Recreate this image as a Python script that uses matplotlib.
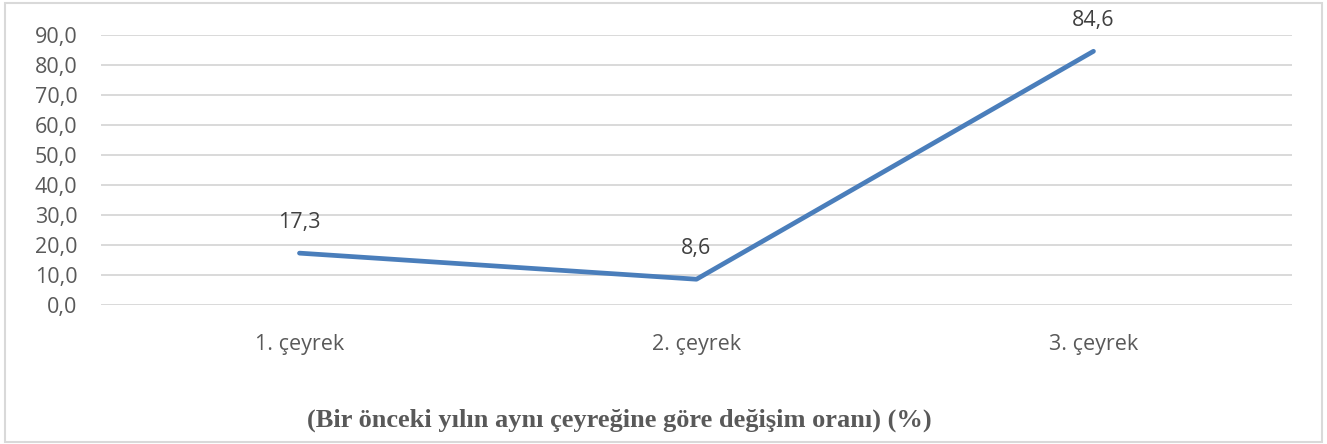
import matplotlib.pyplot as plt
from matplotlib.patches import Rectangle

# data
quarters = ['1. çeyrek', '2. çeyrek', '3. çeyrek']
change_rate = [17.3, 8.6, 84.6]
yticks = [0, 10, 20, 30, 40, 50, 60, 70, 80, 90]
title = '(Bir önceki yılın aynı çeyreğine göre değişim oranı) (%)'

plt.rcParams['font.family'] = ['Open Sans', 'DejaVu Sans']

fig = plt.figure(figsize=(13.27, 4.44), dpi=100)
ax = fig.add_axes([0.0761, 0.313, 0.8975, 0.608])

x = list(range(len(quarters)))
ax.plot(x, change_rate, color='#4a7ebb', lw=3.4, solid_capstyle='round', zorder=3)

# value labels above points
for xi, v in zip(x, change_rate):
    ax.annotate(f'{v:.1f}'.replace('.', ','), (xi, v), xytext=(0, 22),
                textcoords='offset points', ha='center', va='center',
                fontsize=15.5, color='#404040')

ax.set_xlim(-0.5, 2.5)
ax.set_ylim(0, 90)
ax.set_yticks(yticks)
ax.set_yticklabels([f'{t:.1f}'.replace('.', ',') for t in yticks])
ax.set_xticks(x)
ax.set_xticklabels(quarters)
ax.tick_params(axis='y', length=0, labelsize=15.5, labelcolor='#595959', pad=17)
ax.tick_params(axis='x', length=0, labelsize=15.5, labelcolor='#595959', pad=21)
ax.grid(axis='y', color='#d9d9d9', lw=1.4)
ax.set_axisbelow(True)
for s in ax.spines.values():
    s.set_visible(False)

fig.text(0.467, 0.054, title, ha='center', va='center', fontsize=19,
         fontweight='bold', family='Liberation Serif', color='#595959')

# outer border
fig.patches.append(Rectangle((0.004, 0.004), 0.992, 0.99, transform=fig.transFigure,
                             fill=False, ec='#d9d9d9', lw=1.5))

fig.savefig('out.png', dpi=100)
